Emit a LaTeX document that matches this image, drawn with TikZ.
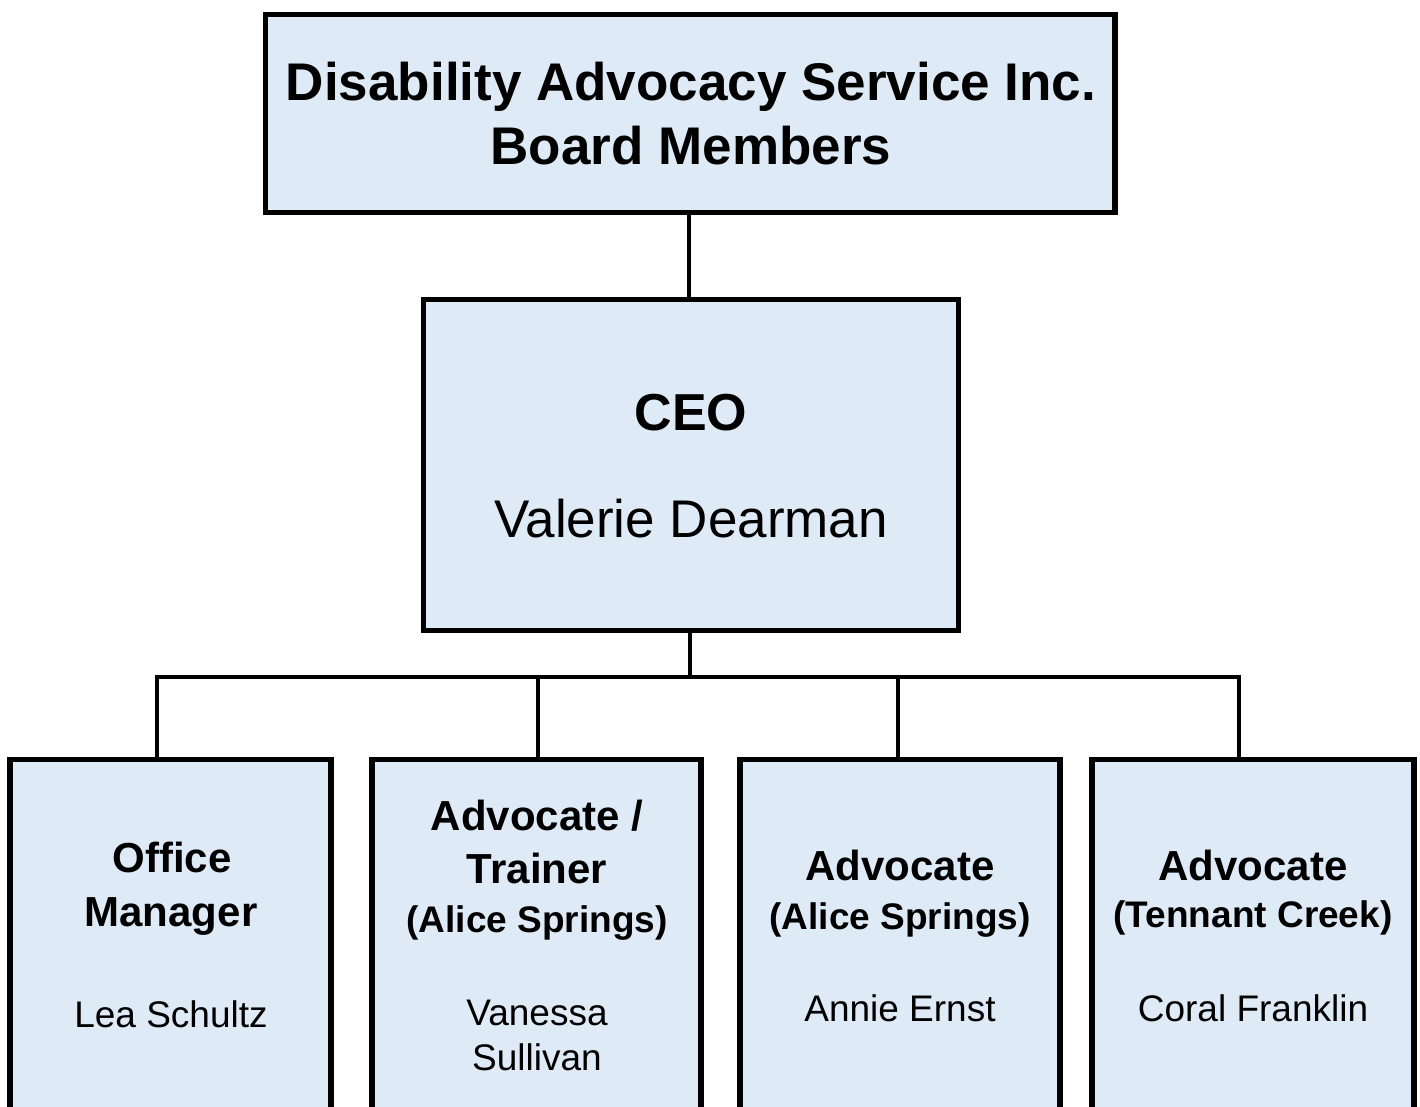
\documentclass[tikz,border=0pt]{standalone}
\usepackage{fontspec}
\setmainfont{Liberation Sans}
\definecolor{boxfill}{RGB}{222,234,246}
\begin{document}
\begin{tikzpicture}[x=1pt,y=-1pt,
  box/.style={draw=black,line width=5.5pt,fill=boxfill,rectangle,inner sep=0pt},
  link/.style={draw=black,line width=4.5pt},
  txt/.style={anchor=base,inner sep=0pt,outer sep=0pt},
  head/.style={txt,font=\fontsize{53}{60}\selectfont\bfseries},
  ceotitle/.style={txt,font=\fontsize{52}{60}\selectfont\bfseries},
  ceoname/.style={txt,font=\fontsize{53}{60}\selectfont},
  role/.style={txt,font=\fontsize{42}{48}\selectfont\bfseries},
  place/.style={txt,font=\fontsize{37}{42}\selectfont\bfseries},
  person/.style={txt,font=\fontsize{37}{42}\selectfont}]
\useasboundingbox (0,0) rectangle (1420,1106);
\clip (0,0) rectangle (1420,1106);

% boxes
\node[box,minimum width=849.5pt,minimum height=198pt] (board) at (690.25,113.5) {};
\node[box,minimum width=535pt,minimum height=331pt] (ceo) at (691,465) {};
\node[box,minimum width=321pt,minimum height=380pt] (b1) at (170.5,949.5) {};
\node[box,minimum width=329pt,minimum height=380pt] (b2) at (536.5,949.5) {};
\node[box,minimum width=320pt,minimum height=380pt] (b3) at (900,949.5) {};
\node[box,minimum width=322pt,minimum height=380pt] (b4) at (1253,949.5) {};

% connectors
\coordinate (t1) at (689,215);
\coordinate (hub) at (690,677);
\coordinate (j1) at (157,677);
\coordinate (j2) at (538,677);
\coordinate (j3) at (898,677);
\coordinate (j4) at (1239,677);
\draw[link] (t1) -- (t1 |- ceo.north);
\draw[link] (hub |- ceo.south) -- (hub);
\draw[link] ([xshift=-2.25pt]j1) -- ([xshift=2.25pt]j4);
\draw[link] (j1) -- (j1 |- b1.north);
\draw[link] (j2) -- (j2 |- b2.north);
\draw[link] (j3) -- (j3 |- b3.north);
\draw[link] (j4) -- (j4 |- b4.north);

% board text
\node[head] (h1) at (691,100) {Disability Advocacy Service Inc.};
\node[head] (h2) at (691,164) {Board Members};

% CEO text
\node[ceotitle] (c1) at (691,430) {CEO};
\node[ceoname] (c2) at (691,537) {Valerie Dearman};

% office manager
\node[role] (o1) at (172,872) {Office};
\node[role] (o2) at (171,926) {Manager};
\node[person] (o3) at (171,1027) {Lea Schultz};

% advocate / trainer
\node[role] (a1) at (537,830) {Advocate /};
\node[role] (a2) at (537,883) {Trainer};
\node[place] (a3) at (537,932) {(Alice Springs)};
\node[person] (a4) at (537,1025) {Vanessa};
\node[person] (a5) at (537,1070) {Sullivan};

% advocate, Alice Springs
\node[role] (s1) at (900,880) {Advocate};
\node[place] (s2) at (900,929) {(Alice Springs)};
\node[person] (s3) at (900,1021) {Annie Ernst};

% advocate, Tennant Creek
\node[role] (k1) at (1253,880) {Advocate};
\node[place] (k2) at (1253,927) {(Tennant Creek)};
\node[person] (k3) at (1253,1021) {Coral Franklin};
\end{tikzpicture}
\end{document}
